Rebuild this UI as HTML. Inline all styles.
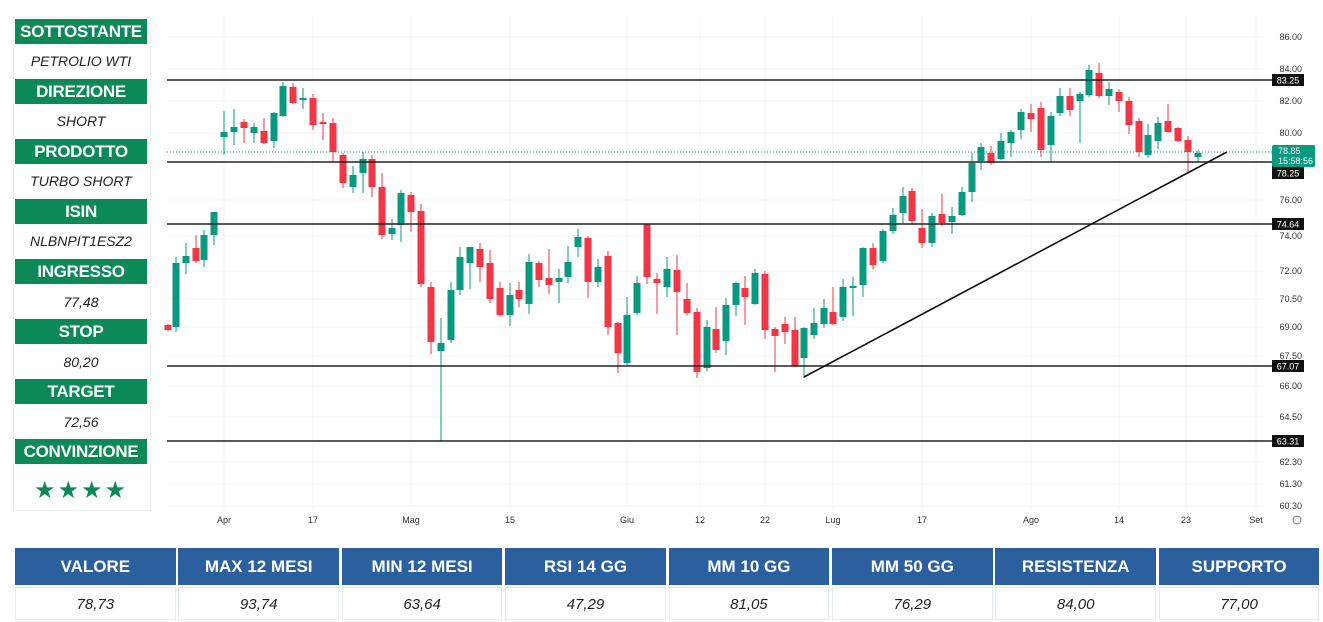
<!DOCTYPE html>
<html><head><meta charset="utf-8"><style>
body{margin:0;width:1323px;height:622px;background:#fff;font-family:"Liberation Sans",sans-serif;position:relative;overflow:hidden}
.h{position:absolute;left:15px;width:132px;height:25px;background:#0b8a58;color:#fff;font-weight:bold;font-size:17px;text-align:center;line-height:25px;letter-spacing:-0.3px}
.v{position:absolute;left:15px;width:132px;height:35px;color:#222;font-style:italic;font-size:14px;text-align:center;line-height:35px}
.panel{position:absolute;left:13px;top:17px;width:136px;height:492px;border:1px solid #eee}
.th{position:absolute;top:548px;height:37px;background:#2c5f9e;color:#fff;font-weight:bold;font-size:17px;text-align:center;line-height:37px}
.td{position:absolute;top:587px;height:33px;border:1px solid #e4ecf2;box-sizing:border-box;color:#222;font-style:italic;font-size:15px;text-align:center;line-height:33px}
</style></head><body>
<div class="panel"></div>
<div class="h" style="top:19px">SOTTOSTANTE</div><div class="v" style="top:44px">PETROLIO WTI</div>
<div class="h" style="top:79px">DIREZIONE</div><div class="v" style="top:104px">SHORT</div>
<div class="h" style="top:139px">PRODOTTO</div><div class="v" style="top:164px">TURBO SHORT</div>
<div class="h" style="top:199px">ISIN</div><div class="v" style="top:224px">NLBNPIT1ESZ2</div>
<div class="h" style="top:259px">INGRESSO</div><div class="v" style="top:285px">77,48</div>
<div class="h" style="top:319px">STOP</div><div class="v" style="top:345px">80,20</div>
<div class="h" style="top:379px">TARGET</div><div class="v" style="top:405px">72,56</div>
<div class="h" style="top:439px">CONVINZIONE</div><div class="v" style="top:473px;color:#0b8a58;font-style:normal;font-size:24px;letter-spacing:2px">★★★★</div>
<svg id="c" width="1323" height="545" style="position:absolute;left:0;top:0" font-family="Liberation Sans, sans-serif"></svg>
<div id="t"></div>
<script>
var s='';
var ticks=[[86,'86.00',37],[84,'84.00',69],[82,'82.00',101],[80,'80.00',133],[76,'76.00',200],[74,'74.00',236],[72,'72.00',271],[70.5,'70.50',299],[69,'69.00',327],[67.5,'67.50',356],[66,'66.00',386],[64.5,'64.50',417],[62.3,'62.30',462],[61.3,'61.30',484],[60.3,'60.30',506]];
ticks.forEach(function(t){s+='<line x1="167" x2="1265" y1="'+t[2]+'" y2="'+t[2]+'" stroke="#f2f3f5"/>';s+='<text x="1302" y="'+(t[2]+3)+'" font-size="9" fill="#333" text-anchor="end">'+t[1]+'</text>';});
var xl=[['Apr',224],['17',313],['Mag',411],['15',510],['Giu',627],['12',700],['22',765],['Lug',833],['17',922],['Ago',1031],['14',1119],['23',1186],['Set',1256]];
xl.forEach(function(t){s+='<line x1="'+t[1]+'" x2="'+t[1]+'" y1="15" y2="510" stroke="#f2f3f5"/>';s+='<text x="'+t[1]+'" y="523" font-size="9" fill="#333" text-anchor="middle">'+t[0]+'</text>';});
s+='<circle cx="1297" cy="520" r="4" fill="none" stroke="#777" stroke-width="1"/>';
// candles: x, o, c, h, l (pixel y). green if c<o
var d=[[168,325,330,324,331],[176,327,263,257,332],[186,263,256,243,274],[196,248,261,235,263],[204,260,235,230,267],[214,235,212,212,245],[224,137,132,111,155],[234,132,127,109,145],[244,122,128,119,143],[254,133,127,123,143],[264,131,143,118,144],[274,141,113,112,148],[283,116,86,82,117],[293,87,103,83,104],[303,99,98,88,109],[313,98,125,94,130],[323,122,123,113,140],[333,123,152,118,162],[343,155,183,153,188],[353,187,175,166,193],[363,173,159,152,193],[372,159,187,155,197],[382,187,235,173,239],[392,234,228,219,240],[401,225,193,190,242],[411,195,212,192,232],[421,211,284,204,287],[431,287,342,282,354],[441,351,343,318,441],[451,340,290,282,343],[460,290,257,247,295],[470,263,247,247,289],[480,249,267,243,282],[490,263,299,250,303],[500,288,315,282,317],[510,315,295,283,326],[519,290,299,282,307],[529,304,262,254,314],[539,263,280,261,287],[549,278,285,249,294],[559,282,278,269,303],[568,277,262,246,283],[578,247,237,229,257],[588,238,282,236,298],[598,282,267,259,287],[608,256,327,251,335],[618,323,353,322,373],[627,363,315,297,365],[637,313,283,276,315],[647,224,277,224,284],[657,279,283,273,314],[667,287,269,257,297],[677,270,292,255,335],[687,299,313,283,315],[697,312,372,308,378],[707,368,327,320,371],[716,329,350,307,353],[726,341,305,298,355],[736,305,283,282,316],[745,288,297,276,325],[755,304,273,269,305],[765,274,330,271,339],[775,329,336,327,372],[785,324,332,317,344],[795,330,366,317,367],[804,358,328,327,378],[814,335,323,308,339],[824,324,308,299,328],[833,312,324,287,325],[843,317,287,279,321],[853,287,286,277,316],[863,285,248,247,297],[873,248,265,243,269],[883,261,231,229,263],[893,231,215,208,234],[903,213,196,187,223],[912,191,221,188,225],[922,228,243,209,248],[932,243,216,213,247],[942,214,223,194,226],[952,222,216,207,234],[962,215,192,187,216],[972,192,163,153,202],[981,161,147,143,170],[991,153,163,146,165],[1001,159,141,133,160],[1011,143,132,130,157],[1021,130,112,109,139],[1031,113,119,104,132],[1041,108,150,102,157],[1051,145,116,112,162],[1060,113,96,88,116],[1070,96,110,88,116],[1080,101,94,92,143],[1089,95,70,65,97],[1099,73,96,63,98],[1109,96,89,82,105],[1119,92,101,89,112],[1129,101,125,97,134],[1139,121,152,118,157],[1148,155,135,124,158],[1158,141,123,117,149],[1168,121,132,104,133],[1178,128,141,127,142],[1188,140,152,136,172],[1198,157,153,150,162]];
d.forEach(function(k){var g=k[2]<=k[1];var col=g?'#089981':'#f23645';var t=Math.min(k[1],k[2]),b=Math.max(k[1],k[2]);if(b-t<2){b=t+2}
s+='<line x1="'+k[0]+'" x2="'+k[0]+'" y1="'+k[3]+'" y2="'+k[4]+'" stroke="'+col+'" stroke-width="1"/>';
s+='<rect x="'+(k[0]-3.5)+'" y="'+t+'" width="7" height="'+(b-t)+'" fill="'+col+'"/>';});
s+='<line x1="167" x2="1272" y1="152" y2="152" stroke="#089981" stroke-dasharray="1,2" stroke-width="1"/>';
[[80,'83.25'],[162,'78.25'],[224,'74.64'],[366,'67.07'],[441,'63.31']].forEach(function(h){
s+='<line x1="167" x2="1272" y1="'+h[0]+'" y2="'+h[0]+'" stroke="#222" stroke-width="1.6"/>';
s+='<rect x="1272" y="'+(h[0]-6)+'" width="32" height="12" fill="#111"/><text x="1288" y="'+(h[0]+3.5)+'" font-size="9" fill="#fff" text-anchor="middle">'+h[1]+'</text>';});
s+='<rect x="1272" y="145" width="43" height="22" rx="2" fill="#089981"/><text x="1278" y="154" font-size="9" fill="#fff">78.85</text><text x="1278" y="164" font-size="9" fill="#fff">15:58:56</text>';
s+='<rect x="1272" y="167" width="32" height="12" fill="#111"/><text x="1288" y="176.5" font-size="9" fill="#fff" text-anchor="middle">78.25</text>';
s+='<line x1="804" y1="377" x2="1227" y2="152" stroke="#111" stroke-width="1.6"/>';
document.getElementById('c').innerHTML=s;
var th=['VALORE','MAX 12 MESI','MIN 12 MESI','RSI 14 GG','MM 10 GG','MM 50 GG','RESISTENZA','SUPPORTO'];
var tv=['78,73','93,74','63,64','47,29','81,05','76,29','84,00','77,00'];
var h='';for(var i=0;i<8;i++){var x=15+i*163.4;h+='<div class="th" style="left:'+x+'px;width:160.6px">'+th[i]+'</div><div class="td" style="left:'+x+'px;width:160.6px">'+tv[i]+'</div>';}
document.getElementById('t').innerHTML=h;
</script>
</body></html>
